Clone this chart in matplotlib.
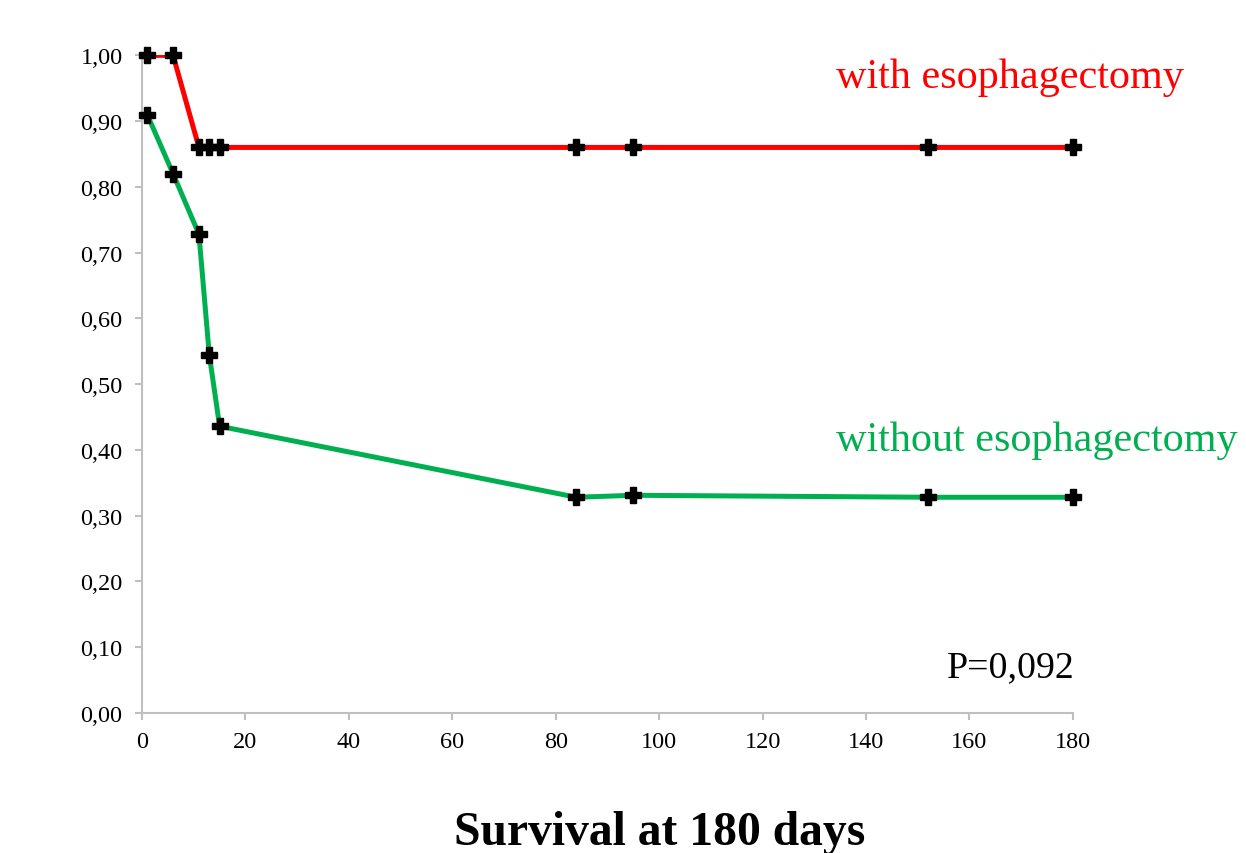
import matplotlib.pyplot as plt
import numpy as np

# Survival at 180 days, two groups
days = [1, 6, 11, 13, 15, 84, 95, 152, 180]
with_eso = [1.00, 1.00, 0.86, 0.86, 0.86, 0.86, 0.86, 0.86, 0.86]
without_eso = [0.91, 0.82, 0.728, 0.545, 0.436, 0.328, 0.331, 0.328, 0.328]

xticks = np.arange(0, 181, 20)
yticks = np.round(np.arange(0, 1.01, 0.1), 2)

plt.rcParams['font.family'] = ['Liberation Serif', 'DejaVu Serif']

fig = plt.figure(figsize=(12.46, 8.54), dpi=100)
ax = fig.add_axes([0.114, 0.164, 0.747, 0.770])

# lines are clipped at the axes, markers are not
for vals, col in [(with_eso, '#FF0000'), (without_eso, '#00B050')]:
    ax.plot(days, vals, color=col, lw=3.6, zorder=3)
    ax.plot(days, vals, ls='none', marker='P', ms=12, mfc='black',
            mec='black', zorder=4, clip_on=False)

ax.set_xlim(0, 180)
ax.set_ylim(0, 1.0)
ax.set_xticks(xticks)
ax.set_yticks(yticks)
ax.set_yticklabels([f'{v:.2f}'.replace('.', ',') for v in yticks])

for s in ['top', 'right']:
    ax.spines[s].set_visible(False)
for s in ['left', 'bottom']:
    ax.spines[s].set_color('#BFBFBF')
    ax.spines[s].set_linewidth(1.5)
ax.tick_params(colors='#BFBFBF', length=5, width=1.5, labelcolor='black',
               labelsize=17.5)
ax.tick_params(axis='y', pad=9)
ax.tick_params(axis='x', pad=8)

ax.text(134.2, 0.967, 'with esophagectomy', color='#FF0000', fontsize=30.4,
        va='center', ha='left', clip_on=False)
ax.text(134.2, 0.416, 'without esophagectomy', color='#00B050', fontsize=30.4,
        va='center', ha='left', clip_on=False)
ax.text(180.4, 0.07, 'P=0,092', fontsize=27.3, va='center', ha='right')

fig.text(0.529, 0.025, 'Survival at 180 days', fontsize=34.3,
         fontweight='bold', ha='center', va='center')

fig.savefig('out.png', dpi=100)
